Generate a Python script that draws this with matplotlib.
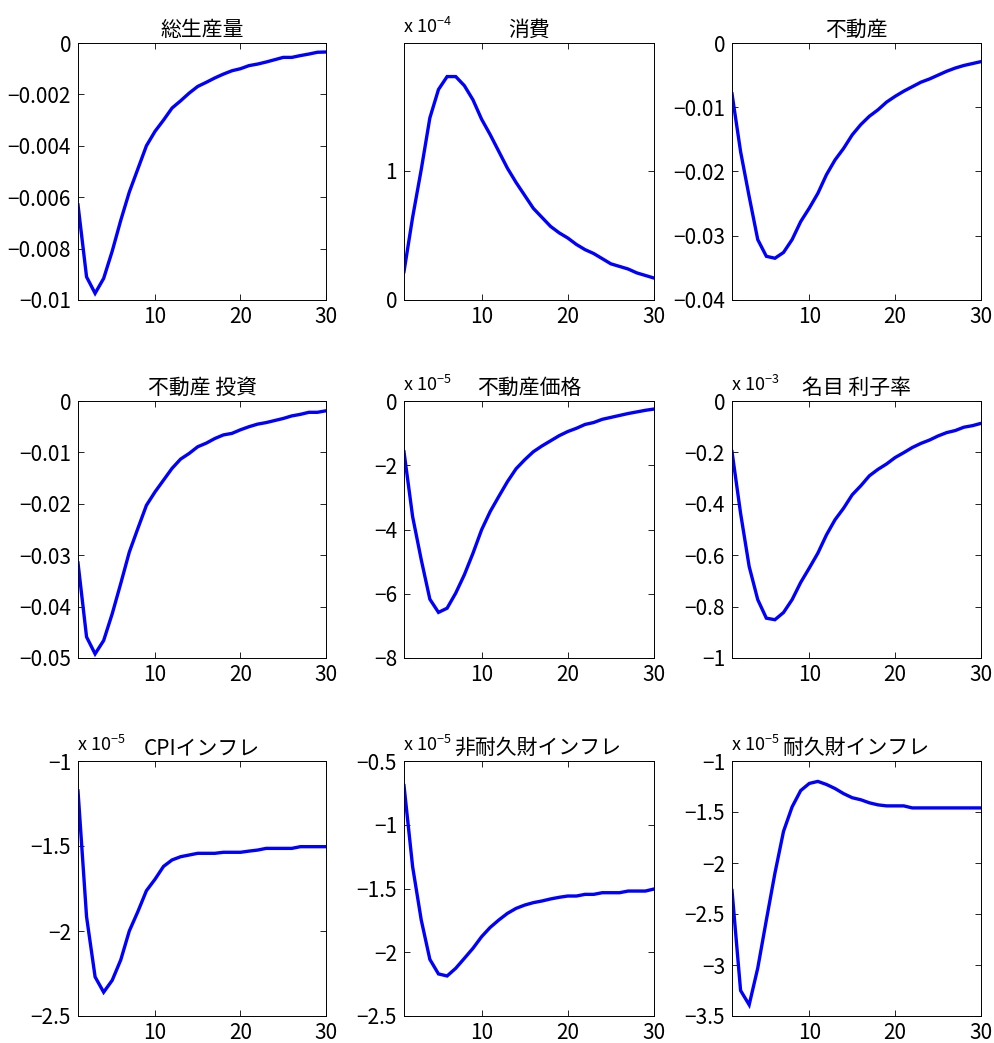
import matplotlib
matplotlib.use("Agg")
import matplotlib.pyplot as plt
import numpy as np
from matplotlib.ticker import FuncFormatter

plt.rcParams["font.family"] = ["Noto Sans CJK JP", "DejaVu Sans"]

periods = np.arange(1, 31)

# values as shown on each axis (the exponent label gives the scale)
output = [-0.0063, -0.0091, -0.00974, -0.00916, -0.0081, -0.0069, -0.0058, -0.0049,
          -0.0040, -0.00344, -0.0030, -0.00253, -0.00225, -0.00195, -0.00169, -0.00153,
          -0.00136, -0.00121, -0.00108, -0.0010, -0.00088, -0.00082, -0.00074, -0.00065,
          -0.00056, -0.00056, -0.00049, -0.00043, -0.00036, -0.00035]
consumption = [0.22, 0.64, 1.01, 1.41, 1.63, 1.73, 1.73, 1.66, 1.55, 1.40, 1.28, 1.15,
               1.02, 0.91, 0.81, 0.71, 0.64, 0.57, 0.52, 0.48, 0.43, 0.39, 0.36, 0.32,
               0.28, 0.26, 0.24, 0.21, 0.19, 0.17]
housing = [-0.0079, -0.0169, -0.0239, -0.0306, -0.0332, -0.0335, -0.0326, -0.0306,
           -0.0278, -0.0257, -0.0234, -0.0205, -0.0182, -0.0164, -0.0143, -0.0127,
           -0.0114, -0.0104, -0.0092, -0.0083, -0.0075, -0.0068, -0.0061, -0.0056,
           -0.0050, -0.0044, -0.0039, -0.0035, -0.0032, -0.0029]
housing_inv = [-0.0315, -0.0459, -0.0492, -0.0466, -0.0414, -0.0355, -0.0294, -0.0248,
               -0.0203, -0.0177, -0.0154, -0.0131, -0.0113, -0.0102, -0.0089, -0.0082,
               -0.0073, -0.0066, -0.0063, -0.0056, -0.0050, -0.0045, -0.0042, -0.0038,
               -0.0034, -0.0029, -0.0026, -0.0022, -0.0022, -0.0019]
house_price = [-1.58, -3.6, -4.94, -6.17, -6.58, -6.45, -5.98, -5.41, -4.74, -4.01,
               -3.44, -2.97, -2.51, -2.11, -1.83, -1.58, -1.40, -1.24, -1.08, -0.95,
               -0.85, -0.73, -0.67, -0.57, -0.51, -0.45, -0.39, -0.34, -0.29, -0.25]
nominal_rate = [-0.197, -0.437, -0.644, -0.773, -0.845, -0.851, -0.823, -0.773, -0.706,
                -0.650, -0.592, -0.521, -0.462, -0.417, -0.365, -0.330, -0.291, -0.266,
                -0.245, -0.220, -0.201, -0.181, -0.165, -0.152, -0.136, -0.123, -0.115,
                -0.102, -0.096, -0.087]
cpi_infl = [-1.176, -1.916, -2.27, -2.36, -2.29, -2.17, -2.00, -1.886, -1.763, -1.696,
            -1.62, -1.582, -1.563, -1.553, -1.543, -1.543, -1.543, -1.537, -1.537,
            -1.537, -1.53, -1.524, -1.514, -1.514, -1.514, -1.514, -1.504, -1.504,
            -1.504, -1.504]
nondurable_infl = [-0.693, -1.329, -1.747, -2.056, -2.17, -2.186, -2.126, -2.048, -1.969,
                   -1.878, -1.805, -1.747, -1.695, -1.656, -1.63, -1.611, -1.598, -1.582,
                   -1.569, -1.559, -1.559, -1.546, -1.546, -1.533, -1.533, -1.533, -1.52,
                   -1.52, -1.52, -1.504]
durable_infl = [-2.27, -3.25, -3.39, -3.03, -2.56, -2.10, -1.69, -1.45, -1.29, -1.22,
                -1.20, -1.23, -1.27, -1.32, -1.36, -1.38, -1.41, -1.43, -1.44, -1.44,
                -1.44, -1.46, -1.46, -1.46, -1.46, -1.46, -1.46, -1.46, -1.46, -1.46]

titles = ["総生産量", "消費", "不動産", "不動産 投資", "不動産価格", "名目 利子率",
          "CPIインフレ", "非耐久財インフレ", "耐久財インフレ"]
series = [output, consumption, housing, housing_inv, house_price, nominal_rate,
          cpi_infl, nondurable_infl, durable_infl]
exponents = [None, -4, None, None, -5, -3, -5, -5, -5]
ylims = [(-0.01, 0), (0, 1.99), (-0.04, 0), (-0.05, 0), (-8, 0), (-1, 0),
         (-2.5, -1), (-2.5, -0.5), (-3.5, -1)]
yticks = [np.arange(-0.01, 0.0001, 0.002), [0, 1], np.arange(-0.04, 0.001, 0.01),
          np.arange(-0.05, 0.001, 0.01), np.arange(-8, 0.1, 2), np.arange(-1, 0.01, 0.2),
          np.arange(-2.5, -0.99, 0.5), np.arange(-2.5, -0.49, 0.5),
          np.arange(-3.5, -0.99, 0.5)]

fig = plt.figure(figsize=(9.94, 10.43), dpi=100)
W, H = 994, 1043
lefts = [78, 404, 732]
widths = [248, 250, 249]
tops = [43, 401, 761]
bottoms = [300, 658, 1016]


def fmt(v, pos):
    v = round(v, 10)
    if abs(v) < 1e-12:
        return "0"
    return ("%g" % v).replace("-", "\u2212")


for i in range(9):
    r, c = divmod(i, 3)
    ax = fig.add_axes([lefts[c] / W, 1 - bottoms[r] / H, widths[c] / W,
                       (bottoms[r] - tops[r]) / H])
    ax.plot(periods, series[i], color="#0000ff", lw=2.4, solid_joinstyle="miter")
    ax.set_xlim(1, 30)
    ax.set_ylim(*ylims[i])
    ax.set_xticks([10, 20, 30])
    ax.set_yticks(yticks[i])
    ax.yaxis.set_major_formatter(FuncFormatter(fmt))
    ax.tick_params(direction="in", top=True, right=True, length=4, width=0.6,
                   labelsize=15, pad=4)
    ax.tick_params(axis="y", pad=5)
    for sp in ax.spines.values():
        sp.set_linewidth(0.7)
    # the long title next to the exponent label is nudged right so they don't collide
    tx = 0.535 if i == 7 else 0.5
    ax.set_title(titles[i], fontsize=15, pad=5, x=tx)
    if exponents[i] is not None:
        ax.text(-0.005, 1.025, "x 10$^{\\mathregular{%d}}$" % exponents[i],
                transform=ax.transAxes, fontsize=13, ha="left", va="bottom")

fig.savefig("out.png", dpi=100)
